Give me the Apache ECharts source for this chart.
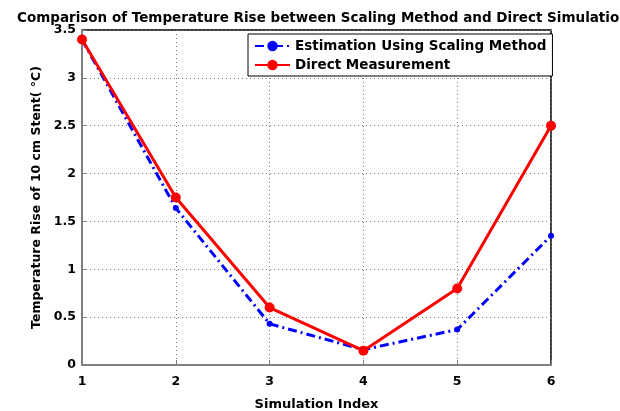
<!DOCTYPE html>
<html>
<head>
<meta charset="utf-8">
<script src="https://cdn.jsdelivr.net/npm/echarts@6/dist/echarts.min.js"></script>
<style>
html, body { margin: 0; padding: 0; background: #fff; }
#chart { width: 620px; height: 411px; }
</style>
</head>
<body>
<div id="chart"></div>
<script>
// simulation index 1..6
var simIndex = [1, 2, 3, 4, 5, 6];
var estimation = [3.4, 1.64, 0.43, 0.16, 0.37, 1.35];
var measured = [3.4, 1.75, 0.6, 0.15, 0.8, 2.5];
var yTicks = [0, 0.5, 1, 1.5, 2, 2.5, 3, 3.5];

function pairs(xs, ys) {
    return xs.map(function (x, i) { return [x, ys[i]]; });
}

var myChart = echarts.init(document.getElementById('chart'));

var font = 'DejaVu Sans, Arial, sans-serif';

option = {
    backgroundColor: '#fff',
    animation: false,
    title: {
        text: 'Comparison of Temperature Rise between Scaling Method and Direct Simulation',
        left: 12,
        top: 6,
        textStyle: { fontFamily: font, fontSize: 13.5, fontWeight: 'bold', color: '#000' }
    },
    legend: {
        orient: 'vertical',
        left: 248,
        top: 34,
        padding: [5, 6, 4, 6],
        itemGap: 5,
        itemWidth: 35,
        itemHeight: 13,
        backgroundColor: '#fff',
        borderColor: '#000',
        borderWidth: 1,
        textStyle: { fontFamily: font, fontSize: 13.5, fontWeight: 'bold', color: '#000' },
        data: ['Estimation Using Scaling Method', 'Direct Measurement']
    },
    grid: {
        left: 82,
        right: 69,
        top: 30,
        bottom: 46,
        outerBoundsMode: 'none',
        show: true,
        borderColor: '#000',
        borderWidth: 1.5
    },
    xAxis: {
        type: 'value',
        min: 1,
        max: 6,
        interval: 1,
        name: 'Simulation Index',
        nameLocation: 'middle',
        nameGap: 33,
        nameTextStyle: { fontFamily: font, fontSize: 13, fontWeight: 'bold', color: '#000' },
        axisLine: { lineStyle: { color: '#808080', width: 2 } },
        axisTick: { inside: true, length: 5, lineStyle: { color: '#808080' } },
        axisLabel: { fontFamily: font, fontSize: 12.5, fontWeight: 'bold', color: '#000', margin: 10 },
        splitLine: { lineStyle: { color: '#777', type: [1, 3] } }
    },
    yAxis: {
        type: 'value',
        min: 0,
        max: 3.5,
        interval: 0.5,
        name: 'Temperature Rise of 10 cm Stent( °C)',
        nameLocation: 'middle',
        nameGap: 33,
        nameTextStyle: { fontFamily: font, fontSize: 12.5, fontWeight: 'bold', color: '#000' },
        axisLine: { show: true, lineStyle: { color: '#808080', width: 2 } },
        axisTick: { show: true, inside: true, length: 5, lineStyle: { color: '#808080' } },
        axisLabel: {
            fontFamily: font, fontSize: 12.5, fontWeight: 'bold', color: '#000', margin: 6,
            formatter: function (v) { return yTicks.indexOf(v) >= 0 ? String(v) : ''; }
        },
        splitLine: { lineStyle: { color: '#777', type: [1, 3] } }
    },
    series: [
        {
            name: 'Estimation Using Scaling Method',
            type: 'line',
            data: pairs(simIndex, estimation),
            symbol: 'circle',
            symbolSize: 6,
            itemStyle: { color: '#0000ff' },
            lineStyle: { color: '#0000ff', width: 3, type: [9, 4, 2, 4] },
            z: 3
        },
        {
            name: 'Direct Measurement',
            type: 'line',
            data: pairs(simIndex, measured),
            symbol: 'circle',
            symbolSize: 10,
            itemStyle: { color: '#ff0000' },
            lineStyle: { color: '#ff0000', width: 3 },
            z: 4
        }
    ]
};

myChart.setOption(option);
</script>
</body>
</html>
